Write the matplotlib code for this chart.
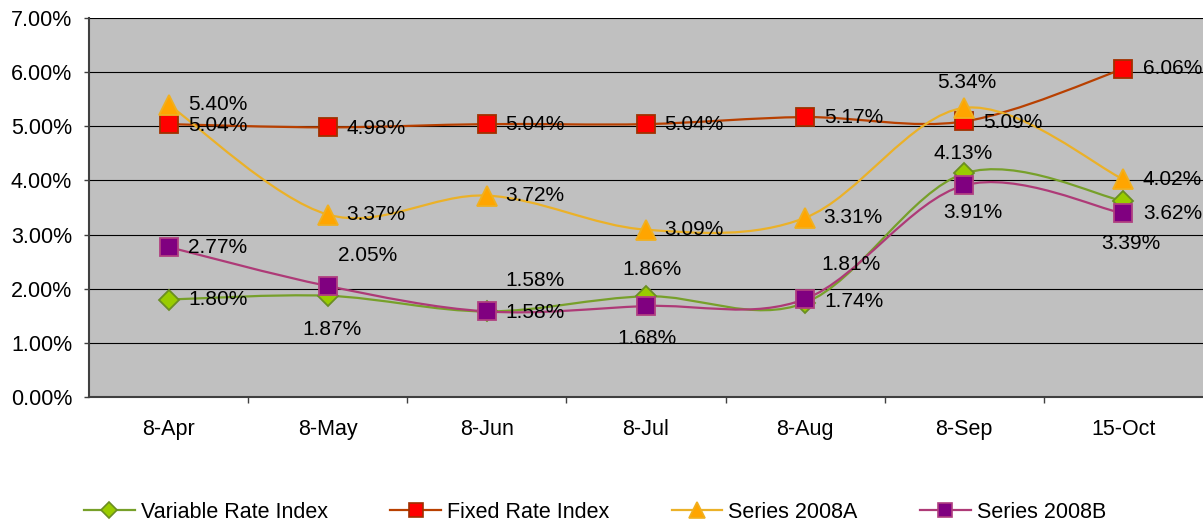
import matplotlib
matplotlib.use('Agg')
import matplotlib.pyplot as plt
from matplotlib.path import Path
from matplotlib.patches import PathPatch
from matplotlib.lines import Line2D
import numpy as np

plt.rcParams['font.family'] = ['Liberation Sans', 'DejaVu Sans']

# === data ===
categories = ['8-Apr', '8-May', '8-Jun', '8-Jul', '8-Aug', '8-Sep', '15-Oct']
variable_rate = [1.80, 1.87, 1.58, 1.86, 1.74, 4.13, 3.62]
fixed_rate = [5.04, 4.98, 5.04, 5.04, 5.17, 5.09, 6.06]
series_2008a = [5.40, 3.37, 3.72, 3.09, 3.31, 5.34, 4.02]
series_2008b = [2.77, 2.05, 1.58, 1.68, 1.81, 3.91, 3.39]
y_ticks = [0, 1, 2, 3, 4, 5, 6, 7]

# label offsets in image pixels (dx right, dy down), as placed in the original
var_off = [(49, 0), (4, 34), (48, -31), (6, -27), (49, -1), (-1, -20), (49, 12)]
fix_off = [(49, 1), (48, 1), (48, 0), (48, 0), (49, 0), (49, 1), (49, 0)]
a_off = [(49, 0), (48, 0), (48, 0), (48, 0), (48, 0), (2, -25), (49, 0)]
b_off = [(49, 0), (40, -31), (48, 1), (1, 32), (46, -35), (9, 27), (7, 30)]

FS = 15.5


def smooth_path(xs, ys):
    # Catmull-Rom through the points, drawn as cubic Bezier segments
    p = np.column_stack([xs, ys]).astype(float)
    n = len(p)
    verts = [p[0]]
    codes = [Path.MOVETO]
    for i in range(n - 1):
        prev = p[max(i - 1, 0)]
        nxt = p[min(i + 2, n - 1)]
        c1 = p[i] + (p[i + 1] - prev) / 6.0
        c2 = p[i + 1] - (nxt - p[i]) / 6.0
        verts += [c1, c2, p[i + 1]]
        codes += [Path.CURVE4] * 3
    return Path(verts, codes)


fig = plt.figure(figsize=(12.03, 5.25), dpi=100)
ax = fig.add_axes([89 / 1203, 1 - 397 / 525, 1 - 89 / 1203, (397 - 18) / 525])
ax.set_facecolor('#C0C0C0')

x = np.arange(len(categories))

series = [
    ('Variable Rate Index', variable_rate, '#77A02A', 'D', '#99CC00', '#6B8E23', 10, var_off),
    ('Fixed Rate Index', fixed_rate, '#B84000', 's', '#FF0000', '#A03000', 12.5, fix_off),
    ('Series 2008A', series_2008a, '#EBB128', '^', '#FFA500', '#F0B020', 14, a_off),
    ('Series 2008B', series_2008b, '#AE3A77', 's', '#800080', '#B04080', 12.5, b_off),
]

handles = []
for k, (name, vals, lc, mk, fc, ec, ms, offs) in enumerate(series):
    z = 3 + k
    ax.add_patch(PathPatch(smooth_path(x, vals), facecolor='none', edgecolor=lc,
                           lw=1.6, zorder=z))
    ax.plot(x, vals, linestyle='none', marker=mk, ms=ms, mfc=fc, mec=ec, mew=1.3,
            zorder=z + 0.5)
    for xi, v, (dx, dy) in zip(x, vals, offs):
        ax.annotate('%.2f%%' % v, (xi, v), xytext=(dx, -dy), textcoords='offset pixels',
                    ha='center', va='center', fontsize=15, color='black', zorder=20)
    handles.append(Line2D([], [], color=lc, lw=1.6, marker=mk, ms=ms * 0.85,
                          mfc=fc, mec=ec, mew=1.2, label=name))

ax.set_xlim(-0.5, len(categories) - 0.5)
ax.set_ylim(0, 7)
ax.set_yticks(y_ticks)
ax.set_yticklabels(['%.2f%%' % t for t in y_ticks], fontsize=FS)
ax.set_xticks(x)
ax.set_xticklabels(categories, fontsize=FS)
ax.set_xticks(np.arange(0.5, len(categories) - 0.5), minor=True)
ax.tick_params(axis='x', which='major', length=0, pad=16)
ax.tick_params(axis='x', which='minor', length=4.5, width=1, color='#404040')
ax.tick_params(axis='y', length=3.6, width=1, color='#404040', pad=8.5)

ax.grid(True, axis='y', color='black', lw=0.8)
ax.set_axisbelow(True)
for side in ['top', 'right']:
    ax.spines[side].set_visible(False)
for side in ['left', 'bottom']:
    ax.spines[side].set_color('#404040')
    ax.spines[side].set_linewidth(1.5)

fig.legend(handles=handles, loc='center', bbox_to_anchor=(595 / 1203, 1 - 512 / 525),
           ncol=4, frameon=False, fontsize=FS, handlelength=2.35, handletextpad=0.28,
           columnspacing=2.9)

fig.savefig('out.png', dpi=100)
